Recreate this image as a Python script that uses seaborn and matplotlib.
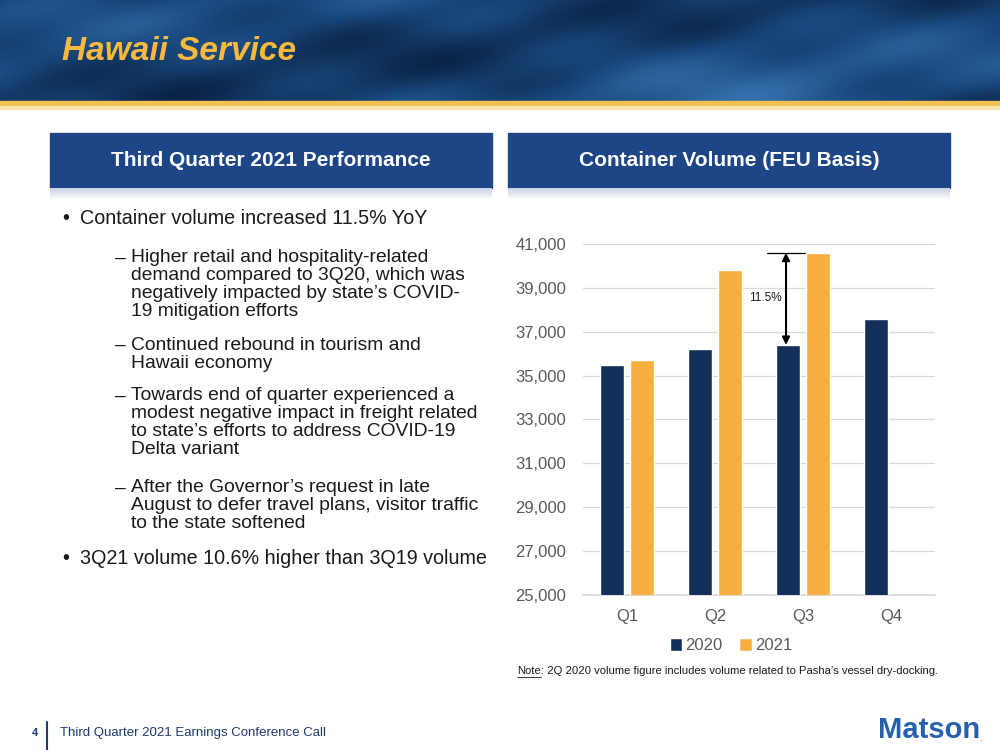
import numpy as np
import pandas as pd
import matplotlib
matplotlib.use('Agg')
import matplotlib.pyplot as plt
from matplotlib.colors import LinearSegmentedColormap
from matplotlib.patches import Rectangle
import seaborn as sns

# 数据
quarters = ['Q1', 'Q2', 'Q3', 'Q4']
vol_2020 = [35500, 36200, 36400, 37600]
vol_2021 = [35700, 39800, 40600, np.nan]
years = ['2020', '2021']

bullets = [
    (218, 0, 'Container volume increased 11.5% YoY'),
    (258, 1, 'Higher retail and hospitality-related'),
    (276, 2, 'demand compared to 3Q20, which was'),
    (294, 2, 'negatively impacted by state\u2019s COVID-'),
    (312, 2, '19 mitigation efforts'),
    (345, 1, 'Continued rebound in tourism and'),
    (363, 2, 'Hawaii economy'),
    (396, 1, 'Towards end of quarter experienced a'),
    (414, 2, 'modest negative impact in freight related'),
    (432, 2, 'to state\u2019s efforts to address COVID-19'),
    (450, 2, 'Delta variant'),
    (488, 1, 'After the Governor\u2019s request in late'),
    (506, 2, 'August to defer travel plans, visitor traffic'),
    (524, 2, 'to the state softened'),
    (558, 0, '3Q21 volume 10.6% higher than 3Q19 volume'),
]

df = pd.DataFrame({
    'quarter': quarters * 2,
    'volume': vol_2020 + vol_2021,
    'year': [years[0]] * 4 + [years[1]] * 4,
})

navy = '#14305A'
gold = '#F7B03F'
hdr_blue = '#1E4687'
ink = '#1a1a1a'

sns.set_theme(style='white')
plt.rcParams['font.family'] = ['Liberation Sans', 'DejaVu Sans']

fig = plt.figure(figsize=(10, 7.5), dpi=100)

# 背景层（像素坐标）
bg = fig.add_axes([0, 0, 1, 1])
bg.set_xlim(0, 1000)
bg.set_ylim(750, 0)
bg.axis('off')

# 顶部海浪横幅
xx, yy = np.meshgrid(np.linspace(0, 1, 1000), np.linspace(0, 1, 100))
z = (0.5 + 0.2 * np.sin(6 * xx + 4 * yy) + 0.12 * np.sin(17 * xx - 6 * yy + 1)
     + 0.08 * np.sin(38 * xx + 11 * yy) + 0.3 * yy * np.exp(-((xx - 0.75) ** 2) / 0.02))
wave = LinearSegmentedColormap.from_list('wave', ['#0a2447', '#1a4a80', '#3570ac'])
bg.imshow(z, cmap=wave, extent=[0, 1000, 101, 0], aspect='auto', zorder=0)
bg.add_patch(Rectangle((0, 101), 1000, 5, color='#F3C150', zorder=1))
bg.add_patch(Rectangle((0, 106), 1000, 3, color='#F9E4AE', zorder=1))
bg.text(62, 52, 'Hawaii Service', fontsize=24, fontweight='bold', fontstyle='italic',
        color='#F7B83D', va='center', ha='left')

# 两个标题框
shadow = LinearSegmentedColormap.from_list('sh', ['#C9D3E3', '#FFFFFF'])
for x0, label in [(50, 'Third Quarter 2021 Performance'), (508, 'Container Volume (FEU Basis)')]:
    bg.add_patch(Rectangle((x0, 133), 442, 55, color=hdr_blue, zorder=1))
    bg.imshow(np.linspace(0, 1, 20).reshape(-1, 1), cmap=shadow,
              extent=[x0, x0 + 442, 200, 188], aspect='auto', zorder=1)
    bg.text(x0 + 221, 161, label, fontsize=15, fontweight='bold', color='white',
            ha='center', va='center')

# 左侧要点
for y, level, line in bullets:
    if level == 0:
        bg.text(62, y, '\u2022', fontsize=14.2, color=ink, va='center')
        bg.text(80, y, line, fontsize=14.2, color=ink, va='center')
    else:
        if level == 1:
            bg.text(115, y, '\u2013', fontsize=13.9, color=ink, va='center')
        bg.text(131, y, line, fontsize=13.9, color=ink, va='center')

# 注释与页脚
renderer = fig.canvas.get_renderer()
note = bg.text(517, 671, 'Note', fontsize=8.1, color=ink, va='center')
nb = note.get_window_extent(renderer)
note_end = bg.transData.inverted().transform((nb.x1, nb.y0))[0]
bg.plot([517, note_end], [677, 677], color=ink, lw=0.6)
bg.text(note_end, 671, ': 2Q 2020 volume figure includes volume related to Pasha\u2019s vessel dry-docking.',
        fontsize=8.1, color=ink, va='center')
bg.text(32, 733, '4', fontsize=8, fontweight='bold', color='#1F3A6E', va='center')
bg.plot([47, 47], [722, 750], color='#1F3A6E', lw=1.5)
bg.text(60, 733, 'Third Quarter 2021 Earnings Conference Call', fontsize=9.5,
        color='#1F3A6E', va='center')
bg.text(878, 730, 'Matson', fontsize=21, fontweight='bold', color='#2460AE', va='center')
bg.text(980, 738, '.', fontsize=8, color='#2460AE', va='center')

# 柱状图
ax = fig.add_axes([0.583, 0.2067, 0.352, 0.468])
sns.barplot(data=df, x='quarter', y='volume', hue='year', palette=[navy, gold],
            saturation=1, width=0.67, gap=0.18, ax=ax, zorder=3)
ax.set_ylim(25000, 41000)
ax.set_yticks(range(25000, 41001, 2000))
ax.set_yticklabels([f'{v:,}' for v in range(25000, 41001, 2000)])
ax.yaxis.grid(True, color='#D9D9D9', lw=0.9)
ax.set_axisbelow(True)
for s in ['top', 'right', 'left']:
    ax.spines[s].set_visible(False)
ax.spines['bottom'].set_color('#D9D9D9')
ax.set_xlabel('')
ax.set_ylabel('')
ax.tick_params(axis='both', length=0, labelsize=12, labelcolor='#595959')
ax.tick_params(axis='x', pad=10)
ax.tick_params(axis='y', pad=12)
ax.set_facecolor('none')

# 同比增幅标注
pct = (vol_2021[2] / vol_2020[2] - 1) * 100
ax.plot([1.59, 2.03], [vol_2021[2], vol_2021[2]], color='black', lw=0.9)
ax.annotate('', xy=(1.807, vol_2020[2]), xytext=(1.807, vol_2021[2]),
            arrowprops=dict(arrowstyle='<|-|>', color='black', lw=1.5,
                            mutation_scale=11, shrinkA=0, shrinkB=0))
ax.text(1.57, 38550, f'{pct:.1f}%', fontsize=8.5, color=ink, ha='center', va='center')
ax.set_xlim(-0.5, len(quarters) - 0.5)

handles, labels = ax.get_legend_handles_labels()
ax.get_legend().remove()
fig.legend(handles, labels, loc='center', bbox_to_anchor=(0.731, 0.139), ncol=2,
           frameon=False, fontsize=12, handlelength=0.75, handleheight=0.75,
           handletextpad=0.2, columnspacing=1.0, labelcolor='#595959')

fig.savefig('out.png', dpi=100)
